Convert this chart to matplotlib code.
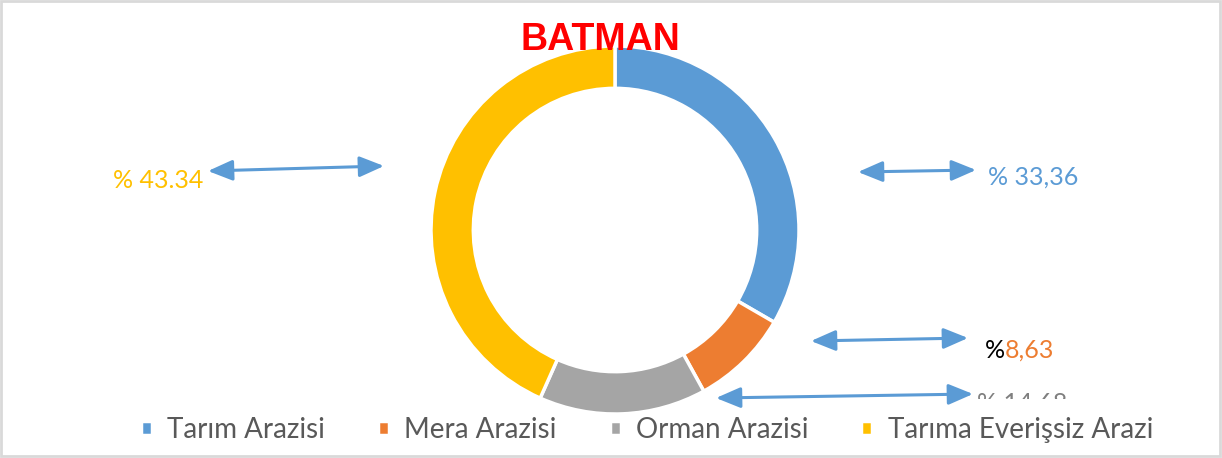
import matplotlib
matplotlib.use("Agg")
import matplotlib.pyplot as plt
from matplotlib.patches import FancyArrowPatch, Rectangle
from matplotlib.transforms import Bbox, IdentityTransform, TransformedBbox

categories = ["Tarım Arazisi", "Mera Arazisi", "Orman Arazisi", "Tarıma Everişsiz Arazi"]
values = [33.36, 8.63, 14.68, 43.34]
colors = ["#5B9BD5", "#ED7D31", "#A5A5A5", "#FFC000"]
title = "BATMAN"

W, H = 1222, 458
fig = plt.figure(figsize=(W / 100, H / 100), dpi=100)
fig.patch.set_facecolor("white")
FONT = ["Lato", "DejaVu Sans"]

# donut axes
cx, cy, r = 615, 230, 184
ax = fig.add_axes([(cx - r) / W, (H - cy - r) / H, 2 * r / W, 2 * r / H])
wedges, _ = ax.pie(values, colors=colors, startangle=90, counterclock=False,
                   radius=1.0, wedgeprops=dict(width=0.23, edgecolor="white", linewidth=2.5))
ax.set_xlim(-1, 1)
ax.set_ylim(-1, 1)
ax.set_aspect("equal")
ax.axis("off")

# overlay in pixel coords
ov = fig.add_axes([0, 0, 1, 1], zorder=5)
ov.set_xlim(0, W)
ov.set_ylim(H, 0)
ov.axis("off")
ov.patch.set_alpha(0)

# border
ov.add_patch(Rectangle((1, 1), W - 3, H - 3, fill=False, edgecolor="#D9D9D9", linewidth=2))

ov.text(600, 40, title, color="#FF0000", fontsize=27, fontweight="bold",
        family=["Liberation Sans", "DejaVu Sans"], ha="center", va="center")

arrow_color = "#5B9BD5"
def arrow(x0, y0, x1, y1):
    a = FancyArrowPatch((x0, y0), (x1, y1), arrowstyle="<|-|>,head_length=1.0,head_width=0.42",
                        mutation_scale=15, color=arrow_color, linewidth=2.2, shrinkA=0, shrinkB=0)
    ov.add_patch(a)

arrow(208, 171, 384, 166)
arrow(858, 172, 976, 170)
arrow(811, 341, 968, 338)
arrow(716, 398, 973, 394)

lbl_size = 18
ov.text(113, 180, "% " + f"{values[3]:.2f}", color=colors[3], fontsize=lbl_size, family=FONT, va="center")
ov.text(988, 177, "% " + f"{values[0]:.2f}".replace(".", ","), color=colors[0], fontsize=lbl_size, family=FONT, va="center")
t1 = ov.text(985, 350, "%", color="black", fontsize=lbl_size, family=FONT, va="center")
ov.annotate(f"{values[1]:.2f}".replace(".", ","), xycoords=t1, xy=(1, 0.5), va="center",
            color=colors[1], fontsize=lbl_size, family=FONT, xytext=(0, 0), textcoords="offset points")
t4 = ov.text(977, 403, "% " + f"{values[2]:.2f}".replace(".", ","), color="#7F7F7F",
             fontsize=lbl_size, family=FONT, va="center")
t4.set_clip_on(True)
t4.set_clip_box(TransformedBbox(Bbox.from_extents(900, H - 399, 1150, H - 360), IdentityTransform()))

# legend
leg = fig.legend(wedges, categories, loc="center", bbox_to_anchor=(647 / W, (H - 430) / H), ncol=4,
                 frameon=False, handlelength=0.4, handleheight=0.4, handletextpad=0.55,
                 columnspacing=1.9, prop={"family": FONT, "size": 20})
for t in leg.get_texts():
    t.set_color("#595959")

fig.savefig("out.png", dpi=100)
